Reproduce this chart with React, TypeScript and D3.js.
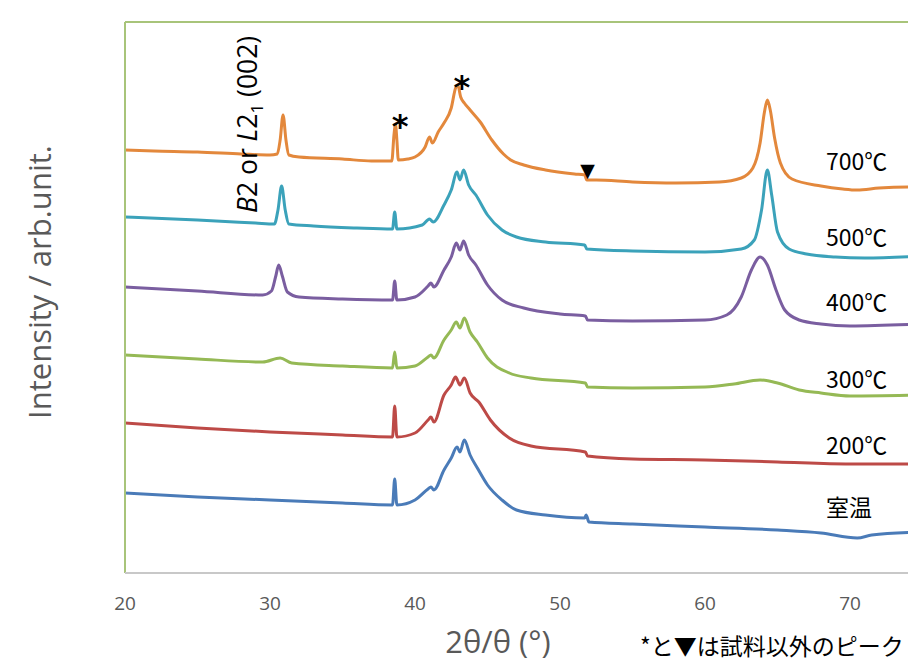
import React from "react";
import * as d3 from "d3";

// 2θ (deg) and intensity (arb. unit, offset traces)
const s700: [number, number][] = [
  [20, 423], [22, 422], [25, 421], [28, 419], [30, 418], [30.5, 419], [30.7, 433], [30.9, 458], [31.1, 433], [31.3, 418],
  [32, 416], [35, 414], [37, 412], [38.4, 412], [38.55, 438], [38.65, 449], [38.75, 433], [38.85, 413], [39.5, 414], [40, 416],
  [40.7, 426], [41.0, 436], [41.2, 430], [41.6, 441], [42, 450], [42.5, 465], [42.8, 485], [42.95, 488], [43.15, 476], [43.4, 470],
  [43.8, 463], [44.5, 451], [45.3, 433], [46.1, 419], [46.6, 413], [47.5, 408], [49, 403], [51, 399], [51.7, 398], [51.85, 393],
  [52.5, 393], [55, 391], [58, 390], [61, 391], [62.5, 395], [63.3, 405], [63.8, 430], [64.1, 461], [64.3, 473], [64.5, 463],
  [64.8, 435], [65.2, 410], [66, 394], [68, 387], [69.5, 384], [70.5, 383], [72, 385], [74, 386], [75, 386],
];
const s500: [number, number][] = [
  [20, 356], [25, 353], [29, 350], [30.3, 349], [30.55, 363], [30.8, 387], [31.05, 363], [31.3, 349], [33, 347], [36, 345],
  [38.45, 344], [38.6, 361], [38.75, 344], [40.5, 348], [41.0, 354], [41.25, 351], [42, 368], [42.5, 383], [42.9, 401], [43.1, 393],
  [43.35, 403], [43.7, 388], [44.2, 378], [45, 358], [46, 343], [47, 336], [49, 331], [51.7, 328], [51.85, 324], [55, 322],
  [60, 321], [62.5, 324], [63.4, 333], [63.9, 363], [64.3, 403], [64.6, 378], [65, 341], [65.8, 324], [67, 319], [69, 316],
  [71, 315], [75, 317],
];
const s400: [number, number][] = [
  [20, 286], [25, 282], [29.5, 278], [30.1, 282], [30.4, 297], [30.6, 308], [30.85, 297], [31.2, 281], [32, 276], [35, 274],
  [38.45, 273], [38.6, 292], [38.75, 273], [40, 276], [40.9, 287], [41.1, 290], [41.3, 286], [42, 303], [42.5, 316], [42.85, 330],
  [43.1, 323], [43.35, 332], [43.7, 318], [44.2, 308], [45, 288], [46, 273], [47.5, 265], [50, 259], [51.75, 257], [51.9, 253],
  [55, 252], [60, 253], [61.5, 258], [62.5, 276], [63.2, 303], [63.8, 316], [64.3, 308], [64.9, 283], [65.5, 263], [66.5, 253],
  [68, 249], [70, 247], [75, 249],
];
const s300: [number, number][] = [
  [20, 218], [25, 214], [29.5, 211], [30.7, 215], [31.5, 210], [35, 207], [38.45, 205], [38.6, 221], [38.75, 205], [40, 207],
  [40.9, 216], [41.1, 218], [41.3, 215], [42, 233], [42.5, 243], [42.85, 251], [43.1, 245], [43.4, 255], [43.8, 241], [44.3, 231],
  [45, 215], [46.5, 200], [48, 195], [51.75, 190], [51.9, 186], [55, 185], [60, 186], [62, 189], [63.8, 193], [65, 190],
  [66.5, 183], [68, 180], [70, 177], [75, 178],
];
const s200: [number, number][] = [
  [20, 150], [25, 145], [30, 141], [35, 138], [38.45, 136], [38.6, 167], [38.75, 136], [40, 140], [40.9, 153], [41.1, 156],
  [41.3, 151], [42, 178], [42.5, 188], [42.8, 196], [43.1, 188], [43.4, 195], [43.8, 180], [44.4, 171], [45.2, 153], [46.5, 135],
  [48, 127], [51.75, 121], [51.9, 117], [55, 114], [60, 113], [65, 111], [70, 109], [75, 109],
];
const sRT: [number, number][] = [
  [20, 80], [25, 76], [30, 73], [35, 70], [38.45, 68], [38.6, 94], [38.75, 68], [40, 73], [40.9, 84], [41.1, 86],
  [41.3, 83], [42, 103], [42.5, 115], [42.9, 126], [43.1, 121], [43.4, 133], [43.8, 118], [44.3, 105], [45, 88], [46, 73],
  [47, 63], [49, 58], [51.7, 55], [51.8, 58], [52, 51], [55, 49], [60, 46], [65, 43], [68, 40], [70.5, 35], [71.5, 38], [75, 41],
];

const seriesNames = ["700℃", "500℃", "400℃", "300℃", "200℃", "室温"];
const seriesData = [s700, s500, s400, s300, s200, sRT];
const seriesColors = ["#e3883c", "#3ba2ba", "#7a5ea0", "#95b955", "#bd4a47", "#4a7bb8"];
const labelIntensity = [411, 335, 270, 193, 127, 65];
const xTicks = [20, 30, 40, 50, 60, 70];
const starMarks: [number, number][] = [[38.97, 453], [43.24, 492]];
const triangleMark: [number, number] = [51.9, 403];

export default function App() {
  const W = 908, H = 661;
  const left = 125, top = 22, bottom = 573;
  const x = d3.scaleLinear().domain([20, 80]).range([left, left + 60 * 14.5]);
  const y = d3.scaleLinear().domain([0, 551]).range([bottom, top]);
  const line = d3
    .line<[number, number]>()
    .x((d) => x(d[0]))
    .y((d) => y(d[1]))
    .curve(d3.curveMonotoneX);
  const gray = "#595959";
  return (
    <svg width={W} height={H} style={{ position: "absolute", left: 0, top: 0, background: "#fff" }}>
      <defs>
        <clipPath id="plot">
          <rect x={left} y={top} width={W - left} height={bottom - top} />
        </clipPath>
      </defs>
      <rect x={0} y={0} width={W} height={H} fill="#fff" />
      <g clipPath="url(#plot)">
        {seriesData.map((d, i) => (
          <path key={i} d={line(d) || ""} fill="none" stroke={seriesColors[i]} strokeWidth={3} strokeLinejoin="round" />
        ))}
      </g>
      <line x1={left} x2={W} y1={top} y2={top} stroke="#a8c47a" strokeWidth={2} />
      <line x1={left} x2={left} y1={top} y2={bottom} stroke="#a8c47a" strokeWidth={2} />
      <line x1={left} x2={W} y1={bottom} y2={bottom} stroke="#c8c8c8" strokeWidth={2} />
      {xTicks.map((t) => (
        <text key={t} x={x(t)} y={610} textAnchor="middle" fontSize={19} fill={gray} fontFamily="'Open Sans', 'Noto Sans', sans-serif">
          {t}
        </text>
      ))}
      {seriesNames.map((n, i) => (
        <text key={n} x={826} y={y(labelIntensity[i]) + 8} fontSize={23} fill="#000" fontFamily="'Noto Sans CJK JP', 'Noto Sans', sans-serif">
          {n}
        </text>
      ))}
      {starMarks.map((s, i) => (
        <text key={i} x={x(s[0])} y={y(s[1]) + 17} textAnchor="middle" fontSize={32} fontWeight="bold" fill="#000" fontFamily="'DejaVu Sans', sans-serif">
          *
        </text>
      ))}
      <text x={x(triangleMark[0])} y={y(triangleMark[1]) + 7} textAnchor="middle" fontSize={19} fill="#000" fontFamily="'DejaVu Sans', sans-serif">
        ▼
      </text>
      <text
        transform="translate(257,213) rotate(-90)"
        fontSize={26.5}
        fill="#000"
        fontFamily="'Open Sans', 'Noto Sans', sans-serif"
      >
        <tspan fontStyle="italic">B</tspan>
        <tspan>2 or </tspan>
        <tspan fontStyle="italic">L</tspan>
        <tspan>2</tspan>
        <tspan fontSize={17} dy={6}>1</tspan>
        <tspan dy={-6}> (002)</tspan>
      </text>
      <text
        transform="translate(51,282) rotate(-90)"
        textAnchor="middle"
        fontSize={31}
        fill={gray}
        fontFamily="'Open Sans', 'Noto Sans', sans-serif"
      >
        Intensity / arb.unit.
      </text>
      <text x={498} y={653} textAnchor="middle" fontSize={31} fill={gray} fontFamily="'Open Sans', 'Noto Sans', sans-serif">
        2θ/θ (°)
      </text>
      <text x={640} y={655} fontSize={23} fill="#000" fontFamily="'Noto Sans CJK JP', sans-serif">
        *と▼は試料以外のピーク
      </text>
    </svg>
  );
}
